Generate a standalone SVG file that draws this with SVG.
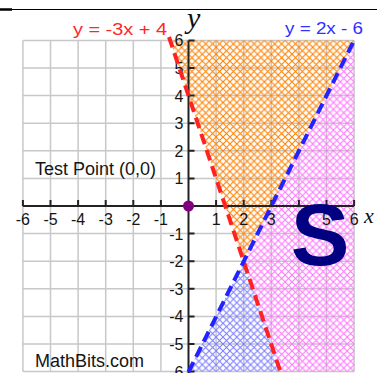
<svg xmlns="http://www.w3.org/2000/svg" width="377" height="373" viewBox="0 0 377 373">
<style>
.grid{stroke:#c8c8c8;stroke-width:1.5;fill:none}
.axis{stroke:#222;stroke-width:2;fill:none}
.tick{font-family:"Liberation Sans",Arial,sans-serif;font-size:16px;fill:#151515}
.tx{text-anchor:middle}
.ty{text-anchor:end}
.lbl{font-family:"Liberation Sans",Arial,sans-serif;font-size:18px;fill:#151515}
.eq{font-family:"Liberation Sans",Arial,sans-serif;font-size:16.5px}
.var{font-family:"Liberation Serif","Times New Roman",serif;font-style:italic;fill:#111}
.dash{fill:none;stroke-width:4;stroke-dasharray:11 6}
</style>
<defs>
<pattern id="hO" width="6.9" height="6.9" patternUnits="userSpaceOnUse" x="188.5" y="206">
<path d="M0,0L6.9,6.9M6.9,0L0,6.9" stroke="#ff8000" stroke-width="1.05" fill="none"/>
</pattern>
<pattern id="hP" width="6.9" height="6.9" patternUnits="userSpaceOnUse" x="188.5" y="206">
<path d="M0,0L6.9,6.9M6.9,0L0,6.9" stroke="#ff70ff" stroke-width="1" fill="none"/>
</pattern>
<pattern id="hB" width="6.9" height="6.9" patternUnits="userSpaceOnUse" x="188.5" y="206">
<path d="M0,0L6.9,6.9M6.9,0L0,6.9" stroke="#7878ff" stroke-width="1" fill="none"/>
</pattern>
</defs>
<rect width="377" height="373" fill="#fff"/>
<g id="frame">
<line x1="0" y1="9.5" x2="377" y2="9.5" stroke="#000" stroke-width="1"/>
<line x1="0" y1="9.5" x2="12" y2="9.5" stroke="#000" stroke-width="2.5"/>
</g>
<g id="grid">
<path class="grid" d="M22.9,40.4V371.6M50.5,40.4V371.6M78.1,40.4V371.6M105.7,40.4V371.6M133.3,40.4V371.6M160.9,40.4V371.6M216.1,40.4V371.6M243.7,40.4V371.6M271.3,40.4V371.6M298.9,40.4V371.6M326.5,40.4V371.6M354.1,40.4V371.6M22.9,40.4H354.1M22.9,68H354.1M22.9,95.6H354.1M22.9,123.2H354.1M22.9,150.8H354.1M22.9,178.4H354.1M22.9,233.6H354.1M22.9,261.2H354.1M22.9,288.8H354.1M22.9,316.4H354.1M22.9,344H354.1M22.9,371.6H354.1"/>
</g>
<g id="regions">
<polygon id="region-above" points="170.1,40.4 354.1,40.4 243.7,261.2" fill="url(#hO)"/>
<polygon id="region-right" points="354.1,40.4 354.1,371.6 280.5,371.6 243.7,261.2" fill="url(#hP)"/>
<polygon id="region-below" points="243.7,261.2 280.5,371.6 188.5,371.6" fill="url(#hB)"/>
</g>
<g id="axes">
<path class="axis" d="M22.9,206H354.1M188.5,40.4V373"/>
<path class="axis" stroke-width="1.5" d="M22.9,206V200M50.5,206V200M78.1,206V200M105.7,206V200M133.3,206V200M160.9,206V200M216.1,206V200M243.7,206V200M271.3,206V200M298.9,206V200M326.5,206V200M354.1,206V200M188.5,40.4H194.5M188.5,68H194.5M188.5,95.6H194.5M188.5,123.2H194.5M188.5,150.8H194.5M188.5,178.4H194.5M188.5,233.6H194.5M188.5,261.2H194.5M188.5,288.8H194.5M188.5,316.4H194.5M188.5,344H194.5M188.5,371.6H194.5"/>
</g>
<g id="x-ticks" class="tick tx">
<text x="22.9" y="224.5">-6</text>
<text x="50.5" y="224.5">-5</text>
<text x="78.1" y="224.5">-4</text>
<text x="105.7" y="224.5">-3</text>
<text x="133.3" y="224.5">-2</text>
<text x="160.9" y="224.5">-1</text>
<text x="216.1" y="224.5">1</text>
<text x="243.7" y="224.5">2</text>
<text x="271.3" y="224.5">3</text>
<text x="326.5" y="224.5">5</text>
<text x="354.1" y="224.5">6</text>
</g>
<g id="y-ticks" class="tick ty">
<text x="183.5" y="46.4">6</text>
<text x="183.5" y="74">5</text>
<text x="183.5" y="101.6">4</text>
<text x="183.5" y="129.2">3</text>
<text x="183.5" y="156.8">2</text>
<text x="183.5" y="184.4">1</text>
<text x="183.5" y="239.6">-1</text>
<text x="183.5" y="267.2">-2</text>
<text x="183.5" y="294.8">-3</text>
<text x="183.5" y="322.4">-4</text>
<text x="183.5" y="350">-5</text>
<text x="183.5" y="377.6">-6</text>
</g>
<g id="connectors">
<path id="line-red" class="dash" stroke="#ff2222" d="M169,37L280.5,372"/>
<path id="line-blue" class="dash" stroke="#2323ff" d="M188.5,372L354.1,40.4"/>
</g>
<g id="test-point">
<circle cx="188.5" cy="206" r="5.5" fill="#800080"/>
</g>
<g id="solution-label">
<text x="320" y="265" text-anchor="middle" font-family="'Liberation Sans',Arial,sans-serif" font-weight="bold" font-size="88" fill="#000080">S</text>
</g>
<g id="labels">
<text class="eq" x="73" y="35" fill="#ff2626" textLength="94" lengthAdjust="spacingAndGlyphs">y = -3x + 4</text>
<text class="eq" x="285" y="34" fill="#3030ff" textLength="78" lengthAdjust="spacingAndGlyphs">y = 2x - 6</text>
<text class="lbl" x="35" y="174.5">Test Point (0,0)</text>
<text class="lbl" x="35" y="367">MathBits.com</text>
<text class="var" x="187" y="27.5" font-size="30">y</text>
<text class="var" x="364" y="223" font-size="22">x</text>
</g>
</svg>
